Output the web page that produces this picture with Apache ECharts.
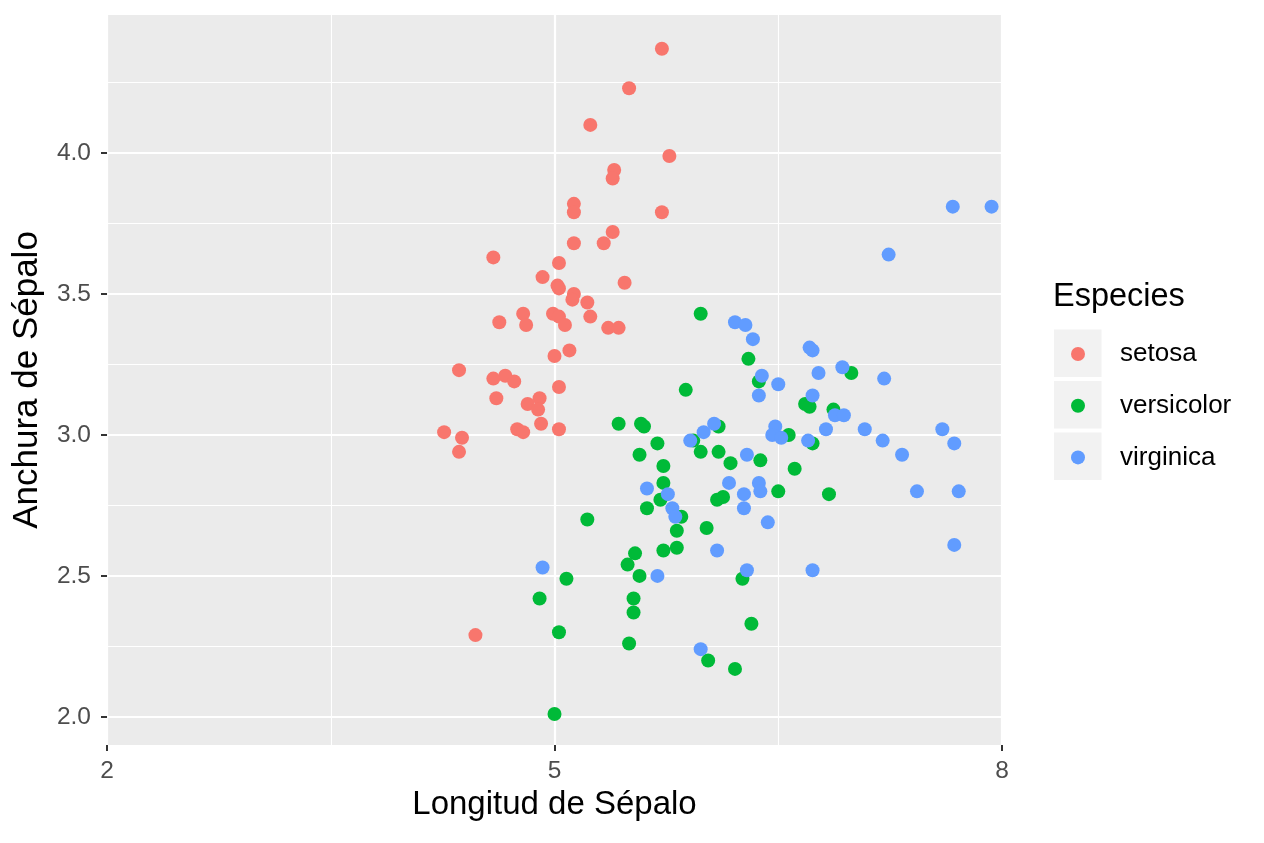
<!DOCTYPE html>
<html>
<head>
<meta charset="utf-8">
<title>Iris - Sépalo</title>
<script src="https://cdn.jsdelivr.net/npm/echarts@6/dist/echarts.min.js"></script>
<style>
  html, body { margin: 0; padding: 0; background: #fff; }
  #chart { width: 1264px; height: 843px; }
</style>
</head>
<body>
<div id="chart"></div>
<script>
// valores (con jitter), [longitud, anchura]
var setosa = [
  [5.72, 4.37], [5.50, 4.23], [5.24, 4.10], [5.77, 3.99], [5.40, 3.94],
  [5.39, 3.91], [5.13, 3.82], [5.13, 3.79], [5.72, 3.79], [5.39, 3.72],
  [5.13, 3.68], [5.33, 3.68], [4.59, 3.63], [5.03, 3.61], [4.92, 3.56],
  [5.02, 3.53], [5.03, 3.52], [5.47, 3.54], [5.13, 3.50], [5.12, 3.48],
  [5.22, 3.47], [4.79, 3.43], [4.99, 3.43], [5.03, 3.42], [4.63, 3.40],
  [4.81, 3.39], [5.07, 3.39], [5.24, 3.42], [5.36, 3.38], [5.43, 3.38],
  [5.10, 3.30], [5.00, 3.28], [4.36, 3.23], [4.59, 3.20], [4.67, 3.21],
  [4.73, 3.19], [5.03, 3.17], [4.61, 3.13], [4.82, 3.11], [4.90, 3.13],
  [4.89, 3.09], [4.91, 3.04], [5.03, 3.02], [4.26, 3.01], [4.75, 3.02],
  [4.79, 3.01], [4.38, 2.99], [4.36, 2.94], [4.47, 2.29]
];
var versicolor = [
  [5.98, 3.43], [6.30, 3.27], [6.37, 3.19], [5.88, 3.16], [5.43, 3.04],
  [5.58, 3.04], [5.60, 3.03], [6.10, 3.03], [5.69, 2.97], [5.93, 2.98],
  [5.57, 2.93], [5.98, 2.94], [6.10, 2.94], [6.18, 2.90], [6.38, 2.91],
  [6.57, 3.00], [6.61, 2.88], [5.73, 2.89], [5.73, 2.83], [6.50, 2.80],
  [6.13, 2.78], [6.09, 2.77], [5.71, 2.77], [5.62, 2.74], [5.85, 2.71],
  [5.82, 2.66], [6.02, 2.67], [5.73, 2.59], [5.82, 2.60], [5.54, 2.58],
  [5.49, 2.54], [5.57, 2.50], [6.26, 2.49], [5.53, 2.42], [5.53, 2.37],
  [6.32, 2.33], [5.50, 2.26], [6.03, 2.20], [6.21, 2.17], [5.22, 2.70],
  [5.08, 2.49], [4.90, 2.42], [5.03, 2.30], [5.00, 2.01], [6.99, 3.22],
  [6.68, 3.11], [6.71, 3.10], [6.87, 3.09], [6.73, 2.97], [6.84, 2.79]
];
var virginica = [
  [6.21, 3.40], [6.28, 3.39], [6.33, 3.34], [6.39, 3.21], [6.50, 3.18],
  [6.37, 3.14], [6.07, 3.04], [6.00, 3.01], [5.91, 2.98], [6.48, 3.03],
  [6.46, 3.00], [6.52, 2.99], [6.29, 2.93], [6.17, 2.83], [6.37, 2.83],
  [6.38, 2.80], [6.27, 2.79], [5.62, 2.81], [5.76, 2.79], [6.27, 2.74],
  [5.79, 2.74], [5.81, 2.71], [6.43, 2.69], [6.09, 2.59], [5.69, 2.50],
  [6.29, 2.52], [5.98, 2.24], [4.92, 2.53], [6.71, 3.31], [6.73, 3.30],
  [6.77, 3.22], [6.93, 3.24], [7.21, 3.20], [6.73, 3.14], [6.88, 3.07],
  [6.94, 3.07], [6.82, 3.02], [7.08, 3.02], [7.60, 3.02], [6.70, 2.98],
  [7.20, 2.98], [7.68, 2.97], [7.33, 2.93], [7.43, 2.80], [7.71, 2.80],
  [7.68, 2.61], [6.73, 2.52], [7.67, 3.81], [7.93, 3.81], [7.24, 3.64]
];

var species = ['setosa', 'versicolor', 'virginica'];
var colors = ['#F8766D', '#00BA38', '#619CFF'];

var xTicks = [2, 5, 8];
var xMinor = [3.5, 6.5];
var yTicks = [2.0, 2.5, 3.0, 3.5, 4.0];
var yMinor = [2.25, 2.75, 3.25, 3.75, 4.25];

var font = '"Liberation Sans", Arial, Helvetica, sans-serif';

var chart = echarts.init(document.getElementById('chart'));

function seriesFor(name, data, color) {
    return {
        name: name,
        type: 'scatter',
        xAxisIndex: 0,
        yAxisIndex: 0,
        data: data,
        symbol: 'circle',
        symbolSize: 14,
        itemStyle: { color: color, opacity: 1 },
        emphasis: { disabled: true }
    };
}

chart.setOption({
    animation: false,
    color: colors,
    textStyle: { fontFamily: font },
    grid: {
        left: 107, top: 15, right: 262, bottom: 98,
        show: true, backgroundColor: '#EBEBEB', borderWidth: 0
    },
    title: {
        text: 'Especies',
        left: 1053, top: 281,
        padding: 0,
        textStyle: { fontFamily: font, fontSize: 32.5, fontWeight: 'normal', color: '#000' }
    },
    legend: {
        orient: 'vertical',
        left: 1071, top: 339,
        padding: 0,
        itemWidth: 14, itemHeight: 14, itemGap: 21.7,
        icon: 'circle',
        selectedMode: false,
        data: species,
        textStyle: {
            fontFamily: font, fontSize: 26, color: '#000',
            lineHeight: 30, padding: [0, 0, 0, 30]
        }
    },
    graphic: [
        { type: 'rect', shape: { x: 1054, y: 329.5, width: 47.5, height: 47.5 }, style: { fill: '#F2F2F2' }, silent: true },
        { type: 'rect', shape: { x: 1054, y: 381, width: 47.5, height: 47.5 }, style: { fill: '#F2F2F2' }, silent: true },
        { type: 'rect', shape: { x: 1054, y: 432.5, width: 47.5, height: 47.5 }, style: { fill: '#F2F2F2' }, silent: true }
    ],
    xAxis: [{
        type: 'value', min: 2, max: 8,
        name: 'Longitud de Sépalo',
        nameLocation: 'middle', nameGap: 37,
        nameTextStyle: { fontFamily: font, fontSize: 33, color: '#000' },
        axisLine: { show: false },
        axisTick: { show: true, customValues: xTicks, length: 6, lineStyle: { color: '#333333', width: 2 } },
        axisLabel: { customValues: xTicks, margin: 14, fontFamily: font, fontSize: 24.5, color: '#4D4D4D' },
        splitLine: { show: true, lineStyle: { color: '#FFFFFF', width: 2.2 } }
    }, {
        type: 'value', min: 2, max: 8,
        axisLine: { show: false },
        axisTick: { show: false, customValues: xMinor },
        axisLabel: { show: false },
        splitLine: { show: true, lineStyle: { color: '#FFFFFF', width: 1.1 } }
    }],
    yAxis: [{
        type: 'value', min: 1.9, max: 4.49,
        name: 'Anchura de Sépalo',
        nameLocation: 'middle', nameGap: 62.5,
        nameTextStyle: { fontFamily: font, fontSize: 35, color: '#000' },
        axisLine: { show: false },
        axisTick: { show: true, customValues: yTicks, length: 6, lineStyle: { color: '#333333', width: 2 } },
        axisLabel: {
            customValues: yTicks, margin: 16, fontFamily: font, fontSize: 24.5, color: '#4D4D4D',
            formatter: function (v) { return v.toFixed(1); }
        },
        splitLine: { show: true, lineStyle: { color: '#FFFFFF', width: 2.2 } }
    }, {
        type: 'value', min: 1.9, max: 4.49,
        axisLine: { show: false },
        axisTick: { show: false, customValues: yMinor },
        axisLabel: { show: false },
        splitLine: { show: true, lineStyle: { color: '#FFFFFF', width: 1.1 } }
    }],
    series: [
        seriesFor('setosa', setosa, colors[0]),
        seriesFor('versicolor', versicolor, colors[1]),
        seriesFor('virginica', virginica, colors[2])
    ]
});
</script>
</body>
</html>
